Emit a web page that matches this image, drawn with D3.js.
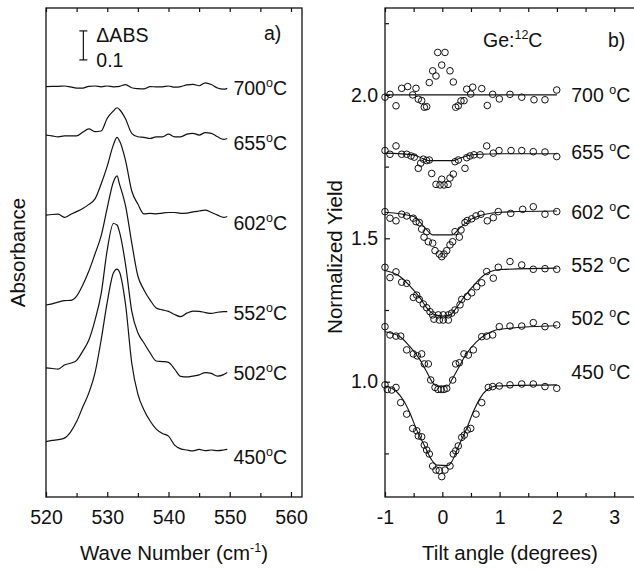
<!DOCTYPE html>
<html><head><meta charset="utf-8">
<script src="https://cdn.jsdelivr.net/npm/d3@7"></script>
<style>
body{margin:0;background:#fff;}
svg{display:block;}
text{font-family:"Liberation Sans",Arial,Helvetica,sans-serif;fill:#111;}
</style></head><body>
<svg id="chart" width="634" height="570"></svg>
<script>
// ---------- Panel a) : IR absorbance spectra ----------
const wavenumbers = [520,521,522,523,524,525,526,527,528,529,530,531,531.6,532,533,534,535,536,537,538,539,540,541,542,543,544,545,546,547,548,549,549.6];
const specTemps = ["700","655","602","552","502","450"];
const abs700 = [1.415,1.416,1.416,1.417,1.414,1.410,1.410,1.416,1.417,1.414,1.417,1.414,1.415,1.416,1.422,1.411,1.408,1.407,1.415,1.414,1.414,1.417,1.413,1.415,1.421,1.423,1.418,1.428,1.422,1.410,1.406,1.409];
const abs655 = [1.248,1.245,1.242,1.245,1.245,1.245,1.258,1.269,1.260,1.262,1.306,1.331,1.342,1.336,1.303,1.254,1.242,1.240,1.236,1.242,1.242,1.251,1.242,1.242,1.251,1.254,1.248,1.256,1.254,1.242,1.233,1.236];
const abs602 = [0.972,0.974,0.975,0.964,0.974,0.984,0.995,1.009,1.028,1.079,1.141,1.214,1.240,1.228,1.159,1.055,1.010,0.976,0.978,0.976,0.979,0.981,0.981,0.978,0.979,0.983,0.986,0.989,0.981,0.972,0.964,0.967];
const abs552 = [0.662,0.666,0.672,0.677,0.678,0.693,0.731,0.779,0.838,0.900,0.997,1.086,1.107,1.079,1.003,0.876,0.762,0.714,0.679,0.652,0.645,0.640,0.629,0.622,0.634,0.641,0.640,0.636,0.633,0.637,0.639,0.639];
const abs502 = [0.445,0.443,0.441,0.455,0.461,0.471,0.503,0.541,0.610,0.700,0.852,0.943,0.938,0.914,0.800,0.641,0.566,0.531,0.497,0.469,0.467,0.464,0.441,0.416,0.414,0.417,0.421,0.429,0.426,0.417,0.422,0.429];
const abs450 = [0.191,0.195,0.198,0.203,0.224,0.260,0.310,0.359,0.428,0.541,0.672,0.772,0.786,0.776,0.662,0.462,0.355,0.300,0.262,0.234,0.219,0.210,0.179,0.166,0.162,0.159,0.164,0.160,0.162,0.160,0.162,0.164];
const waveTicks = [520,530,540,550,560];
const waveMinor = [525,535,545,555];
const scaleBar = {value:0.1, base:1.507, label:"\u0394ABS", valueLabel:"0.1"};

// ---------- Panel b) : channeling yield vs tilt ----------
const yieldTemps = ["700","655","602","552","502","450"];
const tilt700 = [-1.000,-0.913,-0.808,-0.709,-0.604,-0.517,-0.459,-0.419,-0.360,-0.314,-0.273,-0.227,-0.168,-0.110,-0.080,-0.010,0.047,0.134,0.192,0.234,0.279,0.326,0.379,0.426,0.496,0.531,0.688,0.785,0.879,0.995,1.181,1.386,1.600,1.792,1.997];
const yield700 = [1.992,2.002,1.962,2.023,2.029,2.000,2.023,1.985,1.980,1.957,1.959,2.043,2.084,2.066,2.148,2.104,2.148,2.084,2.045,1.957,1.962,1.979,1.980,2.020,2.003,2.027,2.022,1.963,2.002,1.986,2.002,1.992,1.983,1.983,2.017];
const tilt655 = [-1.000,-0.913,-0.808,-0.709,-0.621,-0.546,-0.489,-0.419,-0.377,-0.332,-0.273,-0.227,-0.185,-0.110,-0.040,-0.010,0.030,0.100,0.134,0.192,0.222,0.279,0.396,0.426,0.483,0.553,0.658,0.775,0.890,0.990,1.199,1.386,1.588,1.792,1.997];
const yield655 = [1.806,1.793,1.822,1.793,1.793,1.787,1.783,1.744,1.762,1.776,1.771,1.773,1.726,1.688,1.686,1.706,1.686,1.688,1.710,1.724,1.767,1.773,1.744,1.781,1.787,1.791,1.791,1.822,1.797,1.806,1.806,1.806,1.802,1.801,1.785];
const tilt602 = [-1.000,-0.913,-0.808,-0.709,-0.621,-0.506,-0.459,-0.401,-0.360,-0.273,-0.319,-0.244,-0.168,-0.127,-0.052,-0.010,0.030,0.077,0.134,0.181,0.222,0.297,0.326,0.396,0.436,0.513,0.588,0.675,0.785,0.890,0.977,1.194,1.403,1.588,1.792,1.997];
const yield602 = [1.593,1.570,1.561,1.584,1.578,1.570,1.558,1.555,1.532,1.523,1.504,1.488,1.483,1.457,1.445,1.436,1.445,1.457,1.477,1.488,1.523,1.504,1.529,1.555,1.562,1.568,1.578,1.584,1.561,1.572,1.593,1.587,1.601,1.610,1.584,1.593];
const tilt552 = [-1.000,-0.913,-0.808,-0.709,-0.621,-0.506,-0.447,-0.401,-0.332,-0.273,-0.215,-0.168,-0.145,-0.070,-0.052,0.017,0.017,0.105,0.105,0.164,0.222,0.309,0.339,0.436,0.513,0.600,0.688,0.775,0.890,0.977,1.181,1.386,1.588,1.792,1.997];
const yield552 = [1.399,1.363,1.383,1.347,1.343,1.294,1.302,1.287,1.271,1.258,1.244,1.233,1.218,1.233,1.215,1.233,1.215,1.233,1.215,1.239,1.250,1.268,1.287,1.297,1.310,1.331,1.345,1.384,1.361,1.399,1.419,1.407,1.392,1.394,1.392];
const tilt502 = [-1.000,-0.913,-0.808,-0.726,-0.621,-0.506,-0.436,-0.360,-0.314,-0.244,-0.202,-0.127,-0.075,-0.020,0.030,0.077,0.181,0.234,0.297,0.379,0.454,0.541,0.688,0.775,0.879,0.995,1.181,1.386,1.588,1.792,1.997];
const yield502 = [1.192,1.163,1.159,1.159,1.111,1.097,1.090,1.097,1.062,1.062,1.006,0.980,0.973,0.973,0.973,0.977,1.006,1.062,1.066,1.097,1.093,1.111,1.157,1.159,1.163,1.192,1.194,1.194,1.206,1.192,1.198];
const tilt450 = [-1.000,-0.960,-0.883,-0.808,-0.726,-0.621,-0.517,-0.447,-0.419,-0.360,-0.314,-0.273,-0.227,-0.168,-0.110,-0.052,-0.010,0.047,0.134,0.192,0.234,0.279,0.339,0.384,0.436,0.496,0.588,0.688,0.803,0.879,0.995,1.181,1.386,1.588,1.792,1.997];
const yield450 = [0.989,0.973,0.971,0.980,0.927,0.887,0.837,0.829,0.811,0.808,0.779,0.762,0.748,0.706,0.692,0.690,0.669,0.692,0.706,0.748,0.759,0.776,0.806,0.814,0.832,0.837,0.887,0.927,0.980,0.983,0.985,0.989,0.992,0.992,0.983,0.977];
// fitted curves
const fitT700 = [-1.0,2.0];
const fitY700 = [2.000,2.000];
const fitT655 = [-1.0,-0.5,-0.33,-0.24,0.2,0.3,0.44,0.66,1.0,2.0];
const fitY655 = [1.797,1.791,1.777,1.771,1.771,1.779,1.788,1.793,1.795,1.795];
const fitT602 = [-1.0,-0.5,-0.3,-0.2,-0.17,0.17,0.3,0.5,0.75,1.0,2.0];
const fitY602 = [1.591,1.576,1.536,1.515,1.512,1.512,1.535,1.566,1.584,1.591,1.595];
const fitT552 = [-1.0,-0.738,-0.564,-0.389,-0.244,-0.127,0.007,0.134,0.251,0.396,0.541,0.688,0.832,1.007,1.997];
const fitY552 = [1.388,1.367,1.333,1.292,1.251,1.233,1.229,1.233,1.259,1.300,1.334,1.365,1.383,1.391,1.396];
const fitT502 = [-1.0,-0.738,-0.564,-0.389,-0.273,-0.157,-0.1,0.1,0.164,0.279,0.426,0.600,0.775,1.007,1.997];
const fitY502 = [1.174,1.157,1.122,1.076,1.035,0.994,0.985,0.985,1.006,1.047,1.099,1.140,1.166,1.183,1.195];
const fitT450 = [-1.0,-0.796,-0.681,-0.564,-0.447,-0.302,-0.185,-0.098,0.1,0.164,0.279,0.426,0.541,0.658,0.775,0.949,1.997];
const fitY450 = [0.985,0.965,0.936,0.890,0.832,0.773,0.727,0.709,0.708,0.721,0.773,0.837,0.895,0.942,0.971,0.985,0.989];
const tiltTicks = [-1,0,1,2,3];
const tiltMinor = [-0.5,0.5,1.5,2.5,3.5];
const yieldTicks = [1.0,1.5,2.0];
const yieldMinor = [0.75,1.25,1.75,2.25];

// ---------- drawing ----------
const svg = d3.select("#chart");
const FS = 19.5, FT = 20.5, INK = "#111";
const FONT = '"Liberation Sans",Arial,Helvetica,sans-serif';

function styleAxis(g){
  g.select(".domain").remove();
  g.selectAll("line").attr("stroke",INK).attr("stroke-width",1.2);
  g.selectAll("text").attr("font-size",FS).attr("fill",INK).attr("font-family",FONT);
}
function degLabel(parent, x, y, t, space){
  const tx = parent.append("text").attr("x",x).attr("y",y).attr("dy","0.36em").attr("font-size",FS);
  tx.append("tspan").text(t + (space ? " " : ""));
  tx.append("tspan").attr("font-size",12.5).attr("dy",-8).text("o");
  tx.append("tspan").attr("dy",8).text("C");
}

// Panel a
const L = {x0:46, x1:302, y0:8, y1:497};
const xL = d3.scaleLinear().domain([520, 561.8]).range([L.x0, L.x1]);
const yL = d3.scaleLinear().domain([0, 1.686]).range([L.y1, L.y0]);
const gA = svg.append("g");

gA.append("g").attr("transform",`translate(0,${L.y1})`)
  .call(d3.axisBottom(xL).tickValues(waveTicks).tickSizeInner(-5).tickSizeOuter(0).tickPadding(13).tickFormat(d3.format("d"))).call(styleAxis);
gA.append("g").attr("transform",`translate(0,${L.y1})`)
  .call(d3.axisBottom(xL).tickValues(waveMinor).tickSizeInner(-4).tickSizeOuter(0).tickFormat("")).call(styleAxis);
gA.append("g").attr("transform",`translate(0,${L.y0})`)
  .call(d3.axisTop(xL).tickValues(waveTicks.concat(waveMinor)).tickSizeInner(-4).tickSizeOuter(0).tickFormat("")).call(styleAxis);
gA.append("rect").attr("x",L.x0).attr("y",L.y0).attr("width",L.x1-L.x0).attr("height",L.y1-L.y0)
  .attr("fill","none").attr("stroke",INK).attr("stroke-width",1.3);

const spectra = [abs700,abs655,abs602,abs552,abs502,abs450];
const specLine = d3.line().x((d,i)=>xL(wavenumbers[i])).y(d=>yL(d)).curve(d3.curveMonotoneX);
gA.selectAll("path.spec").data(spectra).join("path").attr("class","spec")
  .attr("d",specLine).attr("fill","none").attr("stroke",INK).attr("stroke-width",1.2);
const specLabelDy = [0,4,6,1,0,8];
spectra.forEach((s,i)=>{
  degLabel(gA, xL(550.6), yL(s[s.length-1]) + specLabelDy[i], specTemps[i], false);
});
// scale bar
const sbx = xL(526.1);
gA.append("line").attr("x1",sbx).attr("x2",sbx).attr("y1",yL(scaleBar.base)).attr("y2",yL(scaleBar.base+scaleBar.value)).attr("stroke",INK).attr("stroke-width",1.2);
[scaleBar.base, scaleBar.base+scaleBar.value].forEach(v=>{
  gA.append("line").attr("x1",sbx-4).attr("x2",sbx+4).attr("y1",yL(v)).attr("y2",yL(v)).attr("stroke",INK).attr("stroke-width",1.2);
});
gA.append("text").attr("x",sbx+13).attr("y",yL(scaleBar.base+scaleBar.value)+4).attr("dy","0.36em").attr("font-size",FS).text(scaleBar.label);
gA.append("text").attr("x",sbx+13).attr("y",yL(scaleBar.base)).attr("dy","0.36em").attr("font-size",FS).text(scaleBar.valueLabel);
gA.append("text").attr("x",264).attr("y",33).attr("dy","0.36em").attr("font-size",FS).text("a)");
gA.append("text").attr("transform",`translate(18,${(L.y0+L.y1)/2}) rotate(-90)`).attr("text-anchor","middle").attr("dy","0.36em").attr("font-size",FT).text("Absorbance");
const tA = gA.append("text").attr("x",(L.x0+L.x1)/2).attr("y",553).attr("dy","0.36em").attr("text-anchor","middle").attr("font-size",FT);
tA.append("tspan").text("Wave Number (cm");
tA.append("tspan").attr("font-size",12.5).attr("dy",-8).text("-1");
tA.append("tspan").attr("dy",8).text(")");

// Panel b
const R = {x0:385, x1:640, y0:8, y1:497};
const xR = d3.scaleLinear().domain([-1, 3.45]).range([R.x0, R.x1]);
const yR = d3.scaleLinear().domain([0.598, 2.303]).range([R.y1, R.y0]);
const gB = svg.append("g");
gB.append("g").attr("transform",`translate(0,${R.y1})`)
  .call(d3.axisBottom(xR).tickValues(tiltTicks).tickSizeInner(-5).tickSizeOuter(0).tickPadding(13).tickFormat(d=>d<0?"-"+Math.abs(d):String(d))).call(styleAxis);
gB.append("g").attr("transform",`translate(0,${R.y1})`)
  .call(d3.axisBottom(xR).tickValues(tiltMinor).tickSizeInner(-4).tickSizeOuter(0).tickFormat("")).call(styleAxis);
gB.append("g").attr("transform",`translate(0,${R.y0})`)
  .call(d3.axisTop(xR).tickValues(tiltTicks.concat(tiltMinor)).tickSizeInner(-4).tickSizeOuter(0).tickFormat("")).call(styleAxis);
gB.append("g").attr("transform",`translate(${R.x0},0)`)
  .call(d3.axisLeft(yR).tickValues(yieldTicks).tickSizeInner(-5).tickSizeOuter(0).tickPadding(7).tickFormat(d3.format(".1f"))).call(styleAxis);
gB.append("g").attr("transform",`translate(${R.x0},0)`)
  .call(d3.axisLeft(yR).tickValues(yieldMinor).tickSizeInner(-4).tickSizeOuter(0).tickFormat("")).call(styleAxis);
gB.append("rect").attr("x",R.x0).attr("y",R.y0).attr("width",R.x1-R.x0).attr("height",R.y1-R.y0)
  .attr("fill","none").attr("stroke",INK).attr("stroke-width",1.3);

const fits = [[fitT700,fitY700],[fitT655,fitY655],[fitT602,fitY602],[fitT552,fitY552],[fitT502,fitY502],[fitT450,fitY450]];
const pts = [[tilt700,yield700],[tilt655,yield655],[tilt602,yield602],[tilt552,yield552],[tilt502,yield502],[tilt450,yield450]];
const fitLine = d3.line().x(d=>xR(d[0])).y(d=>yR(d[1])).curve(d3.curveMonotoneX);
fits.forEach(([t,y])=>{
  gB.append("path").datum(t.map((v,i)=>[v,y[i]])).attr("d",fitLine)
    .attr("fill","none").attr("stroke",INK).attr("stroke-width",1.1);
});
pts.forEach(([t,y])=>{
  gB.append("g").selectAll("circle").data(t.map((v,i)=>[v,y[i]])).join("circle")
    .attr("cx",d=>xR(d[0])).attr("cy",d=>yR(d[1])).attr("r",3.3)
    .attr("fill","none").attr("stroke",INK).attr("stroke-width",1);
});
const yieldLabelDy = [0,-2,1,-3,-8,-13];
fits.forEach(([t,y],i)=>{
  degLabel(gB, xR(2.25), yR(y[y.length-1]) + yieldLabelDy[i], yieldTemps[i], true);
});
const ge = gB.append("text").attr("x",483).attr("y",40).attr("dy","0.36em").attr("font-size",FS);
ge.append("tspan").text("Ge:");
ge.append("tspan").attr("font-size",12.5).attr("dy",-8).text("12");
ge.append("tspan").attr("dy",8).text("C");
gB.append("text").attr("x",608).attr("y",40).attr("dy","0.36em").attr("font-size",FS).text("b)");
gB.append("text").attr("transform",`translate(335,257) rotate(-90)`).attr("text-anchor","middle").attr("dy","0.36em").attr("font-size",FT).text("Normalized Yield");
gB.append("text").attr("x",510).attr("y",553).attr("dy","0.36em").attr("text-anchor","middle").attr("font-size",FT).text("Tilt angle (degrees)");
</script>
</body></html>
